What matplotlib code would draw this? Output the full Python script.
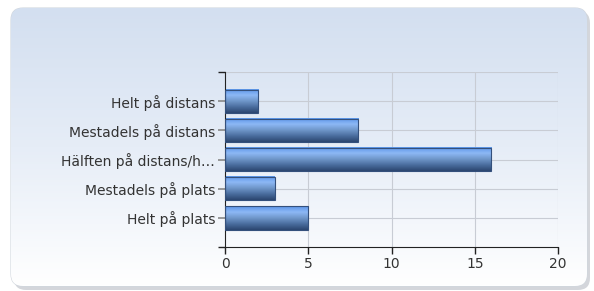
import matplotlib
matplotlib.use("Agg")
import matplotlib.pyplot as plt
import numpy as np
from matplotlib.colors import LinearSegmentedColormap
from matplotlib.patches import FancyBboxPatch

categories = [
    "Helt på distans",
    "Mestadels på distans",
    "Hälften på distans/h…",
    "Mestadels på plats",
    "Helt på plats",
]
values = [2, 8, 16, 3, 5]
x_ticks = [0, 5, 10, 15, 20]

W, H = 594, 291
fig = plt.figure(figsize=(W / 100, H / 100), dpi=100)
fig.patch.set_facecolor("white")

# background panel with soft shadow and vertical gradient
bg_ax = fig.add_axes([0, 0, 1, 1])
bg_ax.set_xlim(0, W)
bg_ax.set_ylim(H, 0)
bg_ax.axis("off")
shadow = FancyBboxPatch((14, 11), 576, 279, boxstyle="round,pad=0,rounding_size=12",
                        facecolor="#b8bcc4", edgecolor="none", alpha=0.6)
bg_ax.add_patch(shadow)
panel = FancyBboxPatch((11, 8), 576, 278, boxstyle="round,pad=0,rounding_size=12",
                       facecolor="none", edgecolor="#d0d6de", linewidth=0.8)
bg_ax.add_patch(panel)
panel_cmap = LinearSegmentedColormap.from_list("panel", ["#d3dff0", "#e6edf7", "#ffffff"])
grad = np.linspace(0, 1, 256).reshape(-1, 1)
img = bg_ax.imshow(grad, cmap=panel_cmap, extent=(11, 587, 286, 8), aspect="auto", zorder=1)
img.set_clip_path(panel)

# chart axes
left, right, top, bottom = 225, 558, 72, 247
ax = fig.add_axes([left / W, 1 - bottom / H, (right - left) / W, (bottom - top) / H])
ax.patch.set_alpha(0)

y = np.arange(len(categories))
bars = ax.barh(y, values, height=0.8, facecolor="none", edgecolor="#34507c",
               linewidth=0.8, zorder=3)

bar_cmap = LinearSegmentedColormap.from_list(
    "bar", ["#5c95e8", "#8db8f5", "#6f96c9", "#4a6d9e", "#2c4670"])
bar_grad = np.linspace(0, 1, 64).reshape(-1, 1)
for bar in bars:
    x0, y0 = bar.get_x(), bar.get_y()
    w, h = bar.get_width(), bar.get_height()
    ax.imshow(bar_grad, cmap=bar_cmap, extent=(x0, x0 + w, y0 + h, y0),
              aspect="auto", zorder=2)

ax.set_xlim(0, 20)
ax.set_ylim(len(categories), -1)
ax.set_xticks(x_ticks)
ax.set_yticks(y)
ax.set_yticklabels(categories)

ax.set_yticks([-1, len(categories)], minor=True)
ax.tick_params(axis="y", which="minor", length=5, color="#222222", width=1)
ax.tick_params(axis="y", which="major", length=5, color="#888888", width=1.2,
               labelsize=10, labelcolor="#333333", pad=2)
ax.tick_params(axis="x", length=5, color="#222222", width=1, labelsize=10,
               labelcolor="#333333", pad=2)

for v in x_ticks[1:]:
    ax.axvline(v, color="#c8ccd4", linewidth=0.8, zorder=1)
for yy in list(y) + [-1]:
    ax.axhline(yy, color="#c8ccd4", linewidth=0.8, zorder=1)

for side in ["top", "right"]:
    ax.spines[side].set_visible(False)
ax.spines["left"].set_color("#222222")
ax.spines["bottom"].set_color("#222222")

fig.savefig("out.png", dpi=100)
